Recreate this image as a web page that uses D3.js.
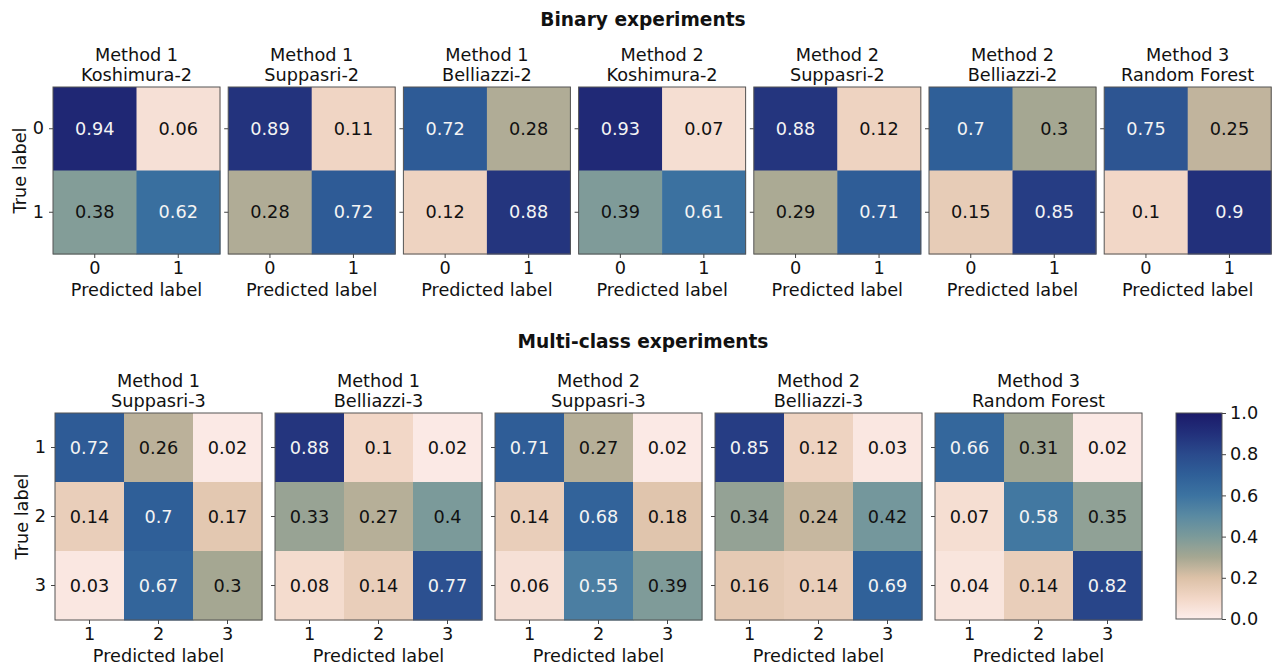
<!DOCTYPE html>
<html><head><meta charset="utf-8">
<script src="https://cdn.jsdelivr.net/npm/d3@7"></script>
<style>body{margin:0;background:#fff}text{font-family:"DejaVu Sans",sans-serif}</style>
</head><body><svg id="c" width="1277" height="667"></svg>
<script>
const binaryMethods = ["Method 1","Method 1","Method 1","Method 2","Method 2","Method 2","Method 3"];
const binaryNames = ["Koshimura-2","Suppasri-2","Belliazzi-2","Koshimura-2","Suppasri-2","Belliazzi-2","Random Forest"];
const binaryLabels = ["0","1"];
const binaryValues = [
  [[0.94,0.06],[0.38,0.62]],
  [[0.89,0.11],[0.28,0.72]],
  [[0.72,0.28],[0.12,0.88]],
  [[0.93,0.07],[0.39,0.61]],
  [[0.88,0.12],[0.29,0.71]],
  [[0.7,0.3],[0.15,0.85]],
  [[0.75,0.25],[0.1,0.9]]
];
const multiMethods = ["Method 1","Method 1","Method 2","Method 2","Method 3"];
const multiNames = ["Suppasri-3","Belliazzi-3","Suppasri-3","Belliazzi-3","Random Forest"];
const multiLabels = ["1","2","3"];
const multiValues = [
  [[0.72,0.26,0.02],[0.14,0.7,0.17],[0.03,0.67,0.3]],
  [[0.88,0.1,0.02],[0.33,0.27,0.4],[0.08,0.14,0.77]],
  [[0.71,0.27,0.02],[0.14,0.68,0.18],[0.06,0.55,0.39]],
  [[0.85,0.12,0.03],[0.34,0.24,0.42],[0.16,0.14,0.69]],
  [[0.66,0.31,0.02],[0.07,0.58,0.35],[0.04,0.14,0.82]]
];
const colorbarTicks = [0,0.2,0.4,0.6,0.8,1.0];
const cmapStops = [0,0.1,0.2,0.3,0.4,0.5,0.6,0.7,0.8,0.9,1.0];
const cmapColors = ["#fdeeec","#f2d7c7","#dcc1a7","#a5a792","#7b9a9a","#5a8aa2","#3c73a1","#2f5f98","#2a4a8c","#22307b","#1b1a69"];

const FS = 17.7;
const svg = d3.select("#c");
const color = d3.scaleLinear().domain(cmapStops).range(cmapColors).interpolate(d3.interpolateRgb);

function drawPanel(x0, y0, size, vals, labels, method, name, showY) {
  const g = svg.append("g").attr("transform", `translate(${x0},${y0})`);
  const xs = d3.scaleBand().domain(labels).range([0,size]);
  const ys = d3.scaleBand().domain(labels).range([0,size]);
  vals.forEach((row,i)=>row.forEach((v,j)=>{
    g.append("rect").attr("x",xs(labels[j])).attr("y",ys(labels[i]))
      .attr("width",xs.bandwidth()+0.5).attr("height",ys.bandwidth()+0.5).attr("fill",color(v));
    g.append("text").attr("x",xs(labels[j])+xs.bandwidth()/2).attr("y",ys(labels[i])+ys.bandwidth()/2)
      .attr("text-anchor","middle").attr("dominant-baseline","central").attr("font-size",FS)
      .attr("fill", v>0.5?"#f4f4f4":"#111").text(String(v));
  }));
  g.append("rect").attr("width",size).attr("height",size).attr("fill","none").attr("stroke","#555").attr("stroke-width",1);
  const ax = g.append("g").attr("transform",`translate(0,${size})`)
    .call(d3.axisBottom(xs).tickSize(4).tickPadding(3));
  ax.select(".domain").remove();
  ax.selectAll("text").attr("font-size",FS).attr("fill","#111").style("font-family","DejaVu Sans");
  ax.selectAll("line").attr("stroke","#444");
  const ay = g.append("g").call(d3.axisLeft(ys).tickSize(4).tickPadding(5).tickFormat(showY? d=>d : ()=>""));
  ay.select(".domain").remove();
  ay.selectAll("text").attr("font-size",FS).attr("fill","#111").style("font-family","DejaVu Sans");
  ay.selectAll("line").attr("stroke","#444");
  g.append("text").attr("x",size/2).attr("y",size+36).attr("text-anchor","middle").attr("dominant-baseline","central")
    .attr("font-size",FS).attr("fill","#111").text("Predicted label");
  g.append("text").attr("x",size/2).attr("y",-32).attr("text-anchor","middle").attr("dominant-baseline","central")
    .attr("font-size",FS).attr("fill","#111").text(method);
  g.append("text").attr("x",size/2).attr("y",-12).attr("text-anchor","middle").attr("dominant-baseline","central")
    .attr("font-size",FS).attr("fill","#111").text(name);
  if (showY) {
    g.append("text").attr("transform",`translate(-33,${size/2}) rotate(-90)`).attr("text-anchor","middle")
      .attr("dominant-baseline","central").attr("font-size",FS).attr("fill","#111").text("True label");
  }
}

svg.append("text").attr("x",643).attr("y",19).attr("text-anchor","middle").attr("dominant-baseline","central")
  .attr("font-size",18.6).attr("font-weight","bold").attr("fill","#111").text("Binary experiments");
svg.append("text").attr("x",643).attr("y",341).attr("text-anchor","middle").attr("dominant-baseline","central")
  .attr("font-size",18.6).attr("font-weight","bold").attr("fill","#111").text("Multi-class experiments");

binaryValues.forEach((m,k)=>drawPanel(53 + k*175.2, 87, 167, m, binaryLabels, binaryMethods[k], binaryNames[k], k===0));
multiValues.forEach((m,k)=>drawPanel(55 + k*220, 413, 207, m, multiLabels, multiMethods[k], multiNames[k], k===0));

// colorbar
const cbX = 1176, cbY = 413, cbW = 46, cbH = 206;
const defs = svg.append("defs");
const grad = defs.append("linearGradient").attr("id","cb").attr("x1",0).attr("y1",1).attr("x2",0).attr("y2",0);
cmapStops.forEach((s,i)=>grad.append("stop").attr("offset",s).attr("stop-color",cmapColors[i]));
svg.append("rect").attr("x",cbX).attr("y",cbY).attr("width",cbW).attr("height",cbH).attr("fill","url(#cb)")
  .attr("stroke","#555").attr("stroke-width",1);
const cs = d3.scaleLinear().domain([0,1]).range([cbY+cbH,cbY]);
const cax = svg.append("g").attr("transform",`translate(${cbX+cbW},0)`)
  .call(d3.axisRight(cs).tickValues(colorbarTicks).tickFormat(d3.format(".1f")).tickSize(4).tickPadding(4));
cax.select(".domain").remove();
cax.selectAll("text").attr("font-size",FS).attr("fill","#111").style("font-family","DejaVu Sans");
cax.selectAll("line").attr("stroke","#444");
</script></body></html>
